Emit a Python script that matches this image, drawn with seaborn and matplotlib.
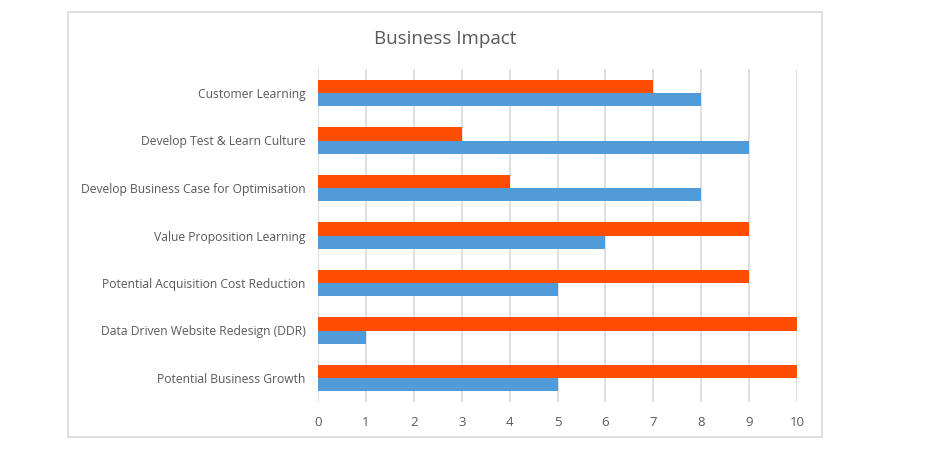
import matplotlib.pyplot as plt
import matplotlib.patches as patches
import seaborn as sns
import pandas as pd

categories = [
    "Customer Learning",
    "Develop Test & Learn Culture",
    "Develop Business Case for Optimisation",
    "Value Proposition Learning",
    "Potential Acquisition Cost Reduction",
    "Data Driven Website Redesign (DDR)",
    "Potential Business Growth",
]
orange_values = [7, 3, 4, 9, 9, 10, 10]
blue_values = [8, 9, 8, 6, 5, 1, 5]
x_ticks = [0, 1, 2, 3, 4, 5, 6, 7, 8, 9, 10]

df = pd.DataFrame({
    "Category": categories * 2,
    "Value": orange_values + blue_values,
    "Series": ["Series A"] * len(categories) + ["Series B"] * len(categories),
})

sns.set_style("white")
plt.rcParams['font.family'] = ['Open Sans', 'DejaVu Sans']
text_color = "#595959"
grid_color = "#D9D9D9"

W, H = 936, 451
fig = plt.figure(figsize=(W / 100, H / 100), dpi=100)
ax = fig.add_axes([318 / W, 1 - 401.75 / H, (797 - 318) / W, (401.75 - 69.25) / H])

sns.barplot(data=df, y="Category", x="Value", hue="Series", orient="h",
            palette={"Series A": "#FF4D00", "Series B": "#519BD8"},
            width=0.55, gap=0, saturation=1, legend=False, linewidth=0, ax=ax)

ax.set_xlim(0, 10)
ax.set_ylim(len(categories) - 0.5, -0.5)
ax.set_xticks(x_ticks)
ax.set_xlabel("")
ax.set_ylabel("")
for s in ax.spines.values():
    s.set_visible(False)
ax.grid(axis="x", color=grid_color, linewidth=1.2)
ax.set_axisbelow(True)
ax.tick_params(axis="x", colors=text_color, labelsize=9.5, length=0, pad=10)
ax.tick_params(axis="y", colors=text_color, labelsize=8.7, length=0, pad=9)
for lbl in ax.get_xticklabels() + ax.get_yticklabels():
    lbl.set_color(text_color)

# chart border
fig.patches.append(patches.Rectangle((68 / W, 1 - 437 / H), (822 - 68) / W, (437 - 12) / H,
                                     transform=fig.transFigure, fill=False,
                                     edgecolor=grid_color, linewidth=1.2))
fig.text(445 / W, 1 - 39 / H, "Business Impact", ha="center", va="center",
         fontsize=13.5, color=text_color)

fig.savefig("out.png", dpi=100)
